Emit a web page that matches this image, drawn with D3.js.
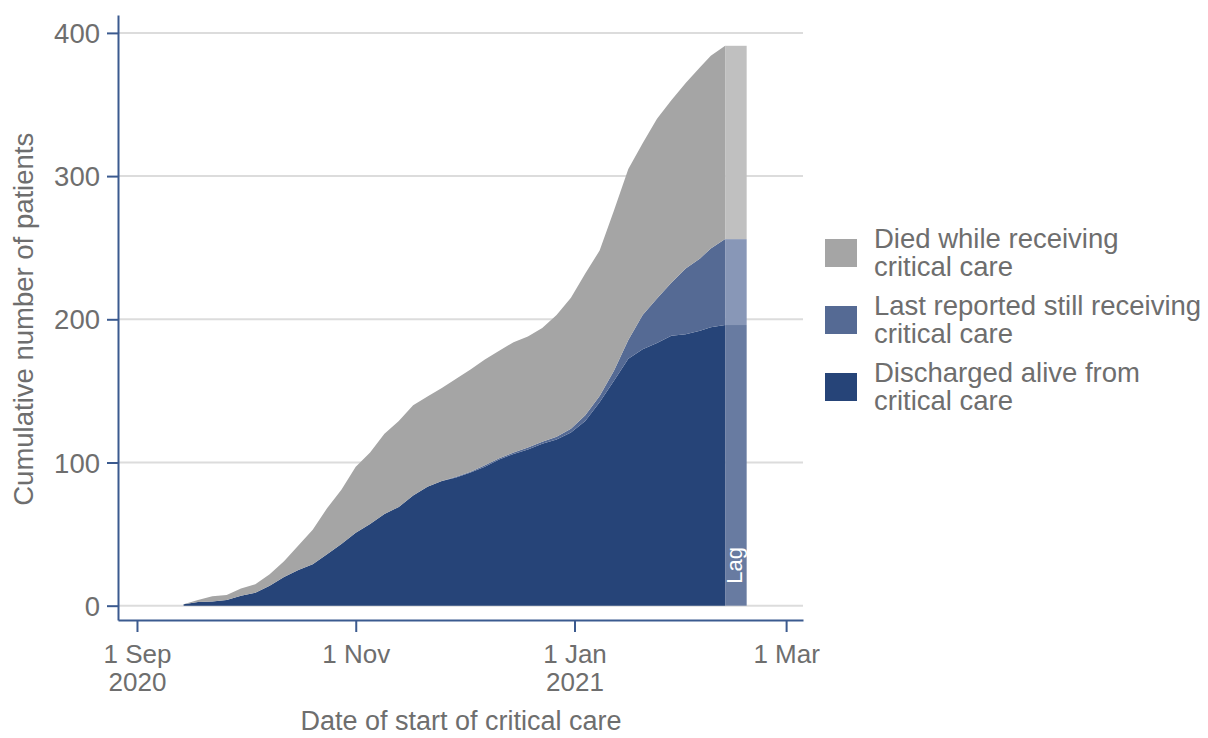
<!DOCTYPE html>
<html>
<head>
<meta charset="utf-8">
<script src="https://cdn.jsdelivr.net/npm/d3@7"></script>
<style>
  html, body { margin: 0; padding: 0; background: #ffffff; }
  svg text { font-family: "Liberation Sans", Arial, Helvetica, sans-serif; }
</style>
</head>
<body>
<svg id="chart" width="1208" height="738"></svg>
<script>
// ---------------- data ----------------
const dates = [
  "2020-09-14","2020-09-18","2020-09-22","2020-09-26","2020-09-30",
  "2020-10-04","2020-10-08","2020-10-12","2020-10-16","2020-10-20",
  "2020-10-24","2020-10-28","2020-11-01","2020-11-05","2020-11-09",
  "2020-11-13","2020-11-17","2020-11-21","2020-11-25","2020-11-29",
  "2020-12-03","2020-12-07","2020-12-11","2020-12-15","2020-12-19",
  "2020-12-23","2020-12-27","2020-12-31","2021-01-04","2021-01-08",
  "2021-01-12","2021-01-16","2021-01-20","2021-01-24","2021-01-28",
  "2021-02-01","2021-02-05","2021-02-08","2021-02-12"
];
const discharged = [
  1, 2.5, 3, 4, 7,
  9, 14, 20, 25, 29,
  36, 43, 51, 57, 64,
  69, 77, 83, 87, 89.5,
  93, 97, 102, 106, 109,
  113, 116, 121, 129, 142,
  157, 172.5, 179, 183.5, 188.5,
  189.5, 192, 194.5, 196
];
const stillReceiving = [
  0, 0, 0, 0, 0,
  0, 0, 0, 0, 0,
  0, 0, 0, 0, 0,
  0, 0, 0, 0, 0.5,
  0.5, 1, 1, 1, 1.5,
  1.5, 2, 2.5, 4, 4.5,
  7, 13, 24, 31, 37,
  46, 50.5, 55, 60
];
const died = [
  0, 1.5, 3.5, 3.5, 5,
  6, 8, 11, 17, 24,
  32, 38, 46, 50, 56,
  60, 63, 63, 65, 68.5,
  71.5, 74, 75, 77, 77.5,
  79.5, 85, 91.5, 99, 101.5,
  112, 119.5, 120, 125.5, 127.5,
  129.5, 133.5, 134.5, 135
];
// reporting lag window (last values carried across it)
const lagDates = ["2021-02-12", "2021-02-18"];
const lagLabel = "Lag";

const seriesKeys = ["discharged", "stillReceiving", "died"];
const seriesLabels = [
  ["Discharged alive from", "critical care"],
  ["Last reported still receiving", "critical care"],
  ["Died while receiving", "critical care"]
];
const seriesColors = ["#264478", "#556a94", "#a5a5a5"];
const lagColors = ["#687ba1", "#8897b7", "#c0c0c0"];

const yTicks = [0, 100, 200, 300, 400];
const xTickDates = ["2020-09-01", "2020-11-01", "2021-01-01", "2021-03-01"];
const xTickLabels = [["1 Sep", "2020"], ["1 Nov"], ["1 Jan", "2021"], ["1 Mar"]];
const yTitle = "Cumulative number of patients";
const xTitle = "Date of start of critical care";

// ---------------- setup ----------------
const parse = d3.timeParse("%Y-%m-%d");
const rows = dates.map((d, i) => ({
  date: parse(d),
  discharged: discharged[i],
  stillReceiving: stillReceiving[i],
  died: died[i]
}));

const svg = d3.select("#chart");
const textColor = "#6e6e6e";
const axisColor = "#3b5a8f";
const fontSize = 27.5;
const tickFont = 26;

const x = d3.scaleTime()
  .domain([new Date(2020, 7, 26, 17), new Date(2021, 2, 5, 17)])
  .range([118, 803]);
const y = d3.scaleLinear()
  .domain([-10, 412.5])
  .range([620, 15]);

// gridlines
svg.append("g").selectAll("line")
  .data(yTicks).join("line")
  .attr("x1", x.range()[0]).attr("x2", x.range()[1])
  .attr("y1", d => y(d)).attr("y2", d => y(d))
  .attr("stroke", "#dcdcdc").attr("stroke-width", 2);

// stacked areas
const stack = d3.stack().keys(seriesKeys);
const layers = stack(rows);
const area = d3.area()
  .x(d => x(d.data.date))
  .y0(d => y(d[0]))
  .y1(d => y(d[1]))
  .curve(d3.curveLinear);

svg.append("g").selectAll("path")
  .data(layers).join("path")
  .attr("d", area)
  .attr("fill", (d, i) => seriesColors[i]);

// lag rectangles
const last = rows[rows.length - 1];
const lagLayers = stack([last]).map(l => l[0]);
const lx0 = x(parse(lagDates[0])), lx1 = x(parse(lagDates[1]));
svg.append("g").selectAll("rect")
  .data(lagLayers).join("rect")
  .attr("x", lx0)
  .attr("width", lx1 - lx0)
  .attr("y", d => y(d[1]))
  .attr("height", d => y(d[0]) - y(d[1]))
  .attr("fill", (d, i) => lagColors[i]);

svg.append("text")
  .attr("transform", `translate(${(lx0 + lx1) / 2 + 6},${y(0) - 22}) rotate(-90)`)
  .attr("fill", "#ffffff")
  .attr("font-size", 22)
  .attr("text-anchor", "start")
  .text(lagLabel);

// y axis
const yAxis = svg.append("g")
  .attr("transform", `translate(${x.range()[0]},0)`)
  .call(d3.axisLeft(y).tickValues(yTicks).tickSize(11).tickSizeOuter(0).tickPadding(7));
yAxis.select(".domain").attr("stroke", axisColor).attr("stroke-width", 2);
yAxis.selectAll(".tick line").attr("stroke", axisColor).attr("stroke-width", 2);
yAxis.selectAll(".tick text")
  .attr("fill", textColor)
  .attr("font-size", fontSize)
  .attr("font-family", "Liberation Sans, Arial, sans-serif")
  .attr("dy", "0.35em");

// x axis
const xTicks = xTickDates.map(parse);
const xAxis = svg.append("g")
  .attr("transform", `translate(0,${y.range()[0]})`)
  .call(d3.axisBottom(x).tickValues(xTicks).tickSize(12).tickSizeOuter(0).tickFormat(""));
xAxis.select(".domain").attr("stroke", axisColor).attr("stroke-width", 2);
xAxis.selectAll(".tick line").attr("stroke", axisColor).attr("stroke-width", 2);
xAxis.selectAll(".tick").each(function(d, i) {
  const t = d3.select(this).append("text")
    .attr("fill", textColor)
    .attr("font-size", tickFont)
    .attr("font-family", "Liberation Sans, Arial, sans-serif")
    .attr("text-anchor", "middle");
  xTickLabels[i].forEach((s, j) => {
    t.append("tspan").attr("x", 0).attr("y", 43 + j * 28).text(s);
  });
});

// axis titles
svg.append("text")
  .attr("transform", `translate(33,${(y(0) + y(400)) / 2}) rotate(-90)`)
  .attr("text-anchor", "middle")
  .attr("fill", textColor)
  .attr("font-size", fontSize)
  .text(yTitle);

svg.append("text")
  .attr("x", 461).attr("y", 730)
  .attr("text-anchor", "middle")
  .attr("fill", textColor)
  .attr("font-size", 27)
  .text(xTitle);

// legend (died on top)
const legendOrder = [2, 1, 0];
const legend = svg.append("g");
legendOrder.forEach((k, i) => {
  const gy = 239 + i * 67;
  legend.append("rect")
    .attr("x", 825).attr("y", gy)
    .attr("width", 32).attr("height", 28)
    .attr("fill", seriesColors[k]);
  const t = legend.append("text")
    .attr("fill", textColor)
    .attr("font-size", fontSize);
  seriesLabels[k].forEach((s, j) => {
    t.append("tspan").attr("x", 874).attr("y", gy + 9 + j * 28).text(s);
  });
});
</script>
</body>
</html>
